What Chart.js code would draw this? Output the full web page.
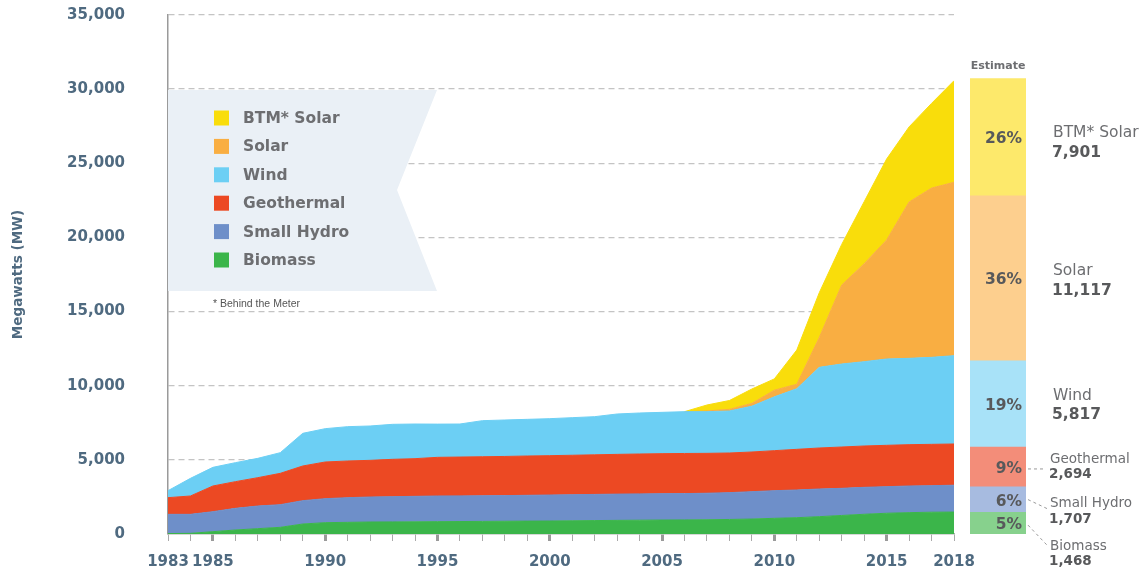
<!DOCTYPE html>
<html><head><meta charset="utf-8">
<script src="https://cdn.jsdelivr.net/npm/chart.js@4.4.1/dist/chart.umd.min.js"></script>
<style>
html,body{margin:0;padding:0;background:#fff;}
#wrap{position:relative;width:1148px;height:569px;overflow:hidden;}
canvas{position:absolute;left:0;top:0;}
</style></head><body>
<div id="wrap"><canvas id="area" width="1148" height="569"></canvas><canvas id="est" width="1148" height="569"></canvas></div>
<script>
// ---------- DATA ----------
const years = [1983,1984,1985,1986,1987,1988,1989,1990,1991,1992,1993,1994,1995,1996,1997,1998,1999,2000,2001,2002,2003,2004,2005,2006,2007,2008,2009,2010,2011,2012,2013,2014,2015,2016,2017,2018];
const seriesNames = ['Biomass','Small Hydro','Geothermal','Wind','Solar','BTM* Solar'];
const biomass    = [30,45,157,270,360,450,674,764,787,810,815,820,832,840,850,860,870,877,890,905,920,932,944,950,960,980,1010,1057,1100,1169,1250,1330,1400,1440,1470,1480];
const smallHydro = [1296,1281,1349,1461,1528,1528,1574,1619,1663,1685,1703,1720,1731,1730,1730,1730,1740,1753,1760,1765,1770,1773,1776,1775,1790,1810,1845,1865,1868,1866,1830,1817,1792,1797,1790,1810];
const geothermal = [1124,1237,1731,1798,1911,2113,2338,2473,2473,2473,2518,2540,2607,2620,2630,2640,2650,2653,2660,2670,2680,2690,2698,2705,2690,2673,2675,2698,2742,2765,2787,2788,2788,2788,2787,2780];
const wind       = [472,1191,1259,1282,1304,1394,2203,2248,2316,2316,2360,2338,2240,2228,2433,2458,2473,2495,2535,2573,2723,2765,2787,2820,2810,2832,3090,3630,4090,5440,5598,5687,5822,5822,5867,5957];
const solar      = [0,0,0,0,0,0,0,0,0,0,0,0,0,0,0,0,0,0,0,0,0,0,0,0,50,112,192,450,300,2010,5325,6608,8028,10543,11416,11693];
const btmSolar   = [0,0,0,0,0,0,0,0,0,0,0,0,0,0,0,0,0,0,0,0,0,0,0,0,400,596,967,760,2309,3020,2740,4180,5460,5065,5710,6850];
// 2018 estimate bar (same order as seriesNames)
const estimateMW = [1468,1707,2694,5817,11117,7901];
const yTicks = [0,5000,10000,15000,20000,25000,30000,35000];
const xLabelYears = [1983,1985,1990,1995,2000,2005,2010,2015,2018];

// ---------- STYLE ----------
const areaColors = ['#3BB54A','#6E8FC9','#EC4923','#6CCFF4','#F9AE42','#F9DD0B'];
const barColors  = ['#87D18D','#A7BBE0','#F38D79','#A8E2F8','#FDCF8E','#FDE96B'];
const slate = '#4f6a80';
const FONT = '"DejaVu Sans", sans-serif';
const seriesValues = [biomass, smallHydro, geothermal, wind, solar, btmSolar];

const legendPanel = {
  id: 'legendPanel',
  beforeDatasetsDraw(chart) {
    const ctx = chart.ctx;
    const x0 = chart.chartArea.left;
    ctx.save();
    ctx.fillStyle = '#eaf0f6';
    ctx.beginPath();
    ctx.moveTo(x0, 90); ctx.lineTo(437, 90); ctx.lineTo(397, 190);
    ctx.lineTo(437, 291); ctx.lineTo(x0, 291); ctx.closePath(); ctx.fill();
    const items = chart.data.datasets.slice().reverse();
    ctx.textBaseline = 'middle'; ctx.textAlign = 'left';
    items.forEach((ds, i) => {
      const cy = 118 + i * 28.4;
      ctx.fillStyle = ds.backgroundColor;
      ctx.fillRect(214, cy - 7.5, 15, 15);
      ctx.fillStyle = '#6d6e71';
      ctx.font = 'bold 15.5px ' + FONT;
      ctx.fillText(ds.label, 243, cy + 1);
    });
    ctx.fillStyle = '#555';
    ctx.font = '10.5px "Liberation Sans Narrow", "Liberation Sans", sans-serif';
    ctx.fillText('* Behind the Meter', 213, 304);
    ctx.restore();
  }
};

const areaChart = new Chart(document.getElementById('area'), {
  type: 'line',
  data: {
    datasets: seriesNames.map((n, i) => ({
      label: n,
      data: years.map((y, k) => ({x: y, y: seriesValues[i][k]})),
      backgroundColor: areaColors[i],
      borderColor: areaColors[i],
      borderWidth: 1,
      segment: {
        borderColor: c => (seriesValues[i][c.p0DataIndex] === 0 && seriesValues[i][c.p1DataIndex] === 0) ? 'rgba(0,0,0,0)' : areaColors[i]
      },
      fill: i === 0 ? 'origin' : '-1',
      pointRadius: 0,
      tension: 0
    }))
  },
  options: {
    responsive: false, animation: false, events: [],
    layout: {padding: {top: 15, right: 194, left: 0, bottom: 0}},
    plugins: {legend: {display: false}, tooltip: {enabled: false}},
    scales: {
      x: {
        type: 'linear', min: 1983, max: 2018, z: 1,
        afterFit: s => { s.height = 35; },
        afterBuildTicks: s => { s.ticks = years.map(v => ({value: v})); },
        grid: {
          drawOnChartArea: false, drawTicks: true, tickLength: 7,
          tickColor: c => (c.tick && c.tick.value % 5 === 0) ? '#9a9a9a' : '#aaaaaa',
          tickWidth: c => (c.tick && c.tick.value % 5 === 0) ? 3 : 1
        },
        border: {display: true, color: '#b0b0b0', width: 1.5},
        ticks: {
          autoSkip: false, maxRotation: 0, minRotation: 0, padding: 12,
          color: slate, font: {family: FONT, weight: 'bold', size: 15},
          callback: v => xLabelYears.includes(v) ? String(v) : ''
        }
      },
      y: {
        min: 0, max: 35000, stacked: true, z: 1,
        afterFit: s => { s.width = 168; },
        afterBuildTicks: s => { s.ticks = yTicks.map(v => ({value: v})); },
        grid: {
          color: c => (c.tick && c.tick.value === 0) ? 'rgba(0,0,0,0)' : '#c4c4c4',
          lineWidth: 1.3, drawTicks: true, tickLength: 43, tickColor: 'rgba(0,0,0,0)'
        },
        border: {display: true, color: '#9a9a9a', width: 1.5, dash: [6, 4]},
        ticks: {
          padding: 0, color: slate, font: {family: FONT, weight: 'bold', size: 15},
          callback: v => v.toLocaleString('en-US')
        },
        title: {
          display: true, text: 'Megawatts (MW)', color: slate,
          font: {family: FONT, weight: 'bold', size: 13.5},
          padding: {top: 10, bottom: 0}
        }
      }
    }
  },
  plugins: [legendPanel]
});

// ---------- ESTIMATE BAR ----------
const labelLayout = [
  {nameDy: 23, valueDy: 38, size: 13.5, dx: 24, leader: [2, 2, 21, 22]},
  {nameDy: 4,  valueDy: 20, size: 13.5, dx: 24, leader: [2, 0, 21, 9]},
  {nameDy: -7, valueDy: 8,  size: 13.5, dx: 24, leader: [2, 2, 20, 2]},
  {nameDy: -8, valueDy: 11, size: 15.5, dx: 27},
  {nameDy: -7, valueDy: 13, size: 15.5, dx: 27},
  {nameDy: -4, valueDy: 16, size: 15.5, dx: 27}
];
const estimateLabels = {
  id: 'estimateLabels',
  afterDatasetsDraw(chart) {
    const ctx = chart.ctx;
    const total = estimateMW.reduce((a, b) => a + b, 0);
    ctx.save();
    ctx.textBaseline = 'middle';
    let topY = Infinity, cx = 0;
    chart.data.datasets.forEach((ds, i) => {
      const el = chart.getDatasetMeta(i).data[0];
      const top = Math.min(el.y, el.base), bot = Math.max(el.y, el.base);
      topY = Math.min(topY, top); cx = el.x;
      const cy = (top + bot) / 2;
      const right = el.x + el.width / 2;
      const v = ds.data[0];
      ctx.textAlign = 'right';
      ctx.fillStyle = '#58595b';
      ctx.font = 'bold 15.5px ' + FONT;
      ctx.fillText(Math.round(v / total * 100) + '%', right - 4, cy + 2);
      const L = labelLayout[i];
      ctx.textAlign = 'left';
      ctx.fillStyle = '#6d6e71';
      ctx.font = L.size + 'px ' + FONT;
      ctx.fillText(ds.label, right + L.dx, cy + L.nameDy);
      ctx.fillStyle = '#58595b';
      ctx.font = 'bold ' + L.size + 'px ' + FONT;
      ctx.fillText(v.toLocaleString('en-US'), right + L.dx - 1, cy + L.valueDy);
      if (L.leader) {
        ctx.strokeStyle = '#9a9a9a'; ctx.lineWidth = 1; ctx.setLineDash([3, 3]);
        ctx.beginPath();
        ctx.moveTo(right + L.leader[0], cy + L.leader[1]);
        ctx.lineTo(right + L.leader[2], cy + L.leader[3]);
        ctx.stroke(); ctx.setLineDash([]);
      }
    });
    ctx.textAlign = 'center';
    ctx.fillStyle = '#6d6e71';
    ctx.font = 'bold 11px ' + FONT;
    ctx.fillText('Estimate', cx, topY - 13);
    ctx.restore();
  }
};
const ca = areaChart.chartArea;
new Chart(document.getElementById('est'), {
  type: 'bar',
  data: {
    labels: ['2018'],
    datasets: seriesNames.map((n, i) => ({
      label: n, data: [estimateMW[i]], backgroundColor: barColors[i],
      borderWidth: 0, categoryPercentage: 1, barPercentage: 1
    }))
  },
  options: {
    responsive: false, animation: false, events: [],
    layout: {padding: {left: 970, right: 1148 - 1026, top: ca.top, bottom: 569 - ca.bottom}},
    plugins: {legend: {display: false}, tooltip: {enabled: false}},
    scales: {
      x: {display: false, stacked: true},
      y: {display: false, stacked: true, min: 0, max: 35000}
    }
  },
  plugins: [estimateLabels]
});
</script>
</body></html>
